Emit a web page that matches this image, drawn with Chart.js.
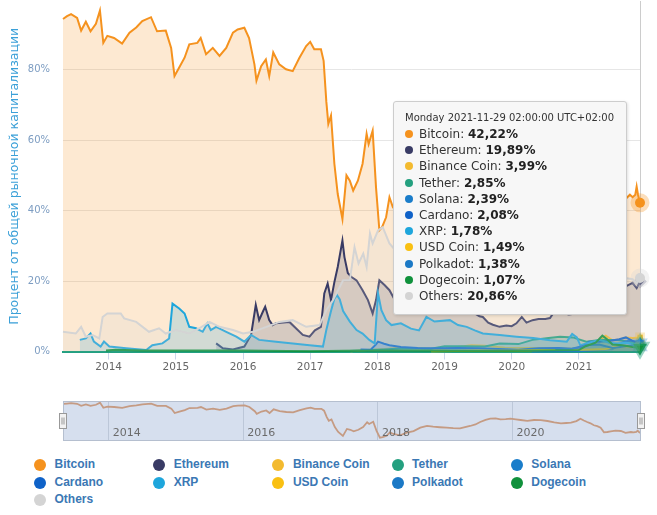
<!DOCTYPE html>
<html><head><meta charset="utf-8">
<script src="https://cdn.jsdelivr.net/npm/chart.js@4.4.1/dist/chart.umd.min.js"></script>
<style>
html,body{margin:0;padding:0;background:#fff;width:657px;height:515px;overflow:hidden;}
#wrap{position:relative;width:657px;height:515px;}
#main{position:absolute;left:0;top:0;}
#nav{position:absolute;left:0;top:397px;}
#tip{position:absolute;display:none;background:#f7f7f7;border:1px solid #cdcdcd;border-radius:3px;box-shadow:1px 1px 3px rgba(0,0,0,0.12);padding:8px 12px 10px 11px;font-family:"DejaVu Sans",sans-serif;color:#333;white-space:nowrap;}
#tip .t{font-size:10px;line-height:16px;}
#tip .r{font-size:12px;line-height:16.2px;}
#tip .d{display:inline-block;width:8px;height:8px;border-radius:50%;margin-right:6px;vertical-align:0px;}
#tip b{font-weight:bold;color:#222;}
.li{position:absolute;height:16px;line-height:16px;padding-left:20px;font:bold 12px "Liberation Sans",Arial,sans-serif;color:#3b78b4;white-space:nowrap;}
.li .m{position:absolute;left:-0.5px;top:2px;width:12px;height:12px;border-radius:50%;}
</style>
</head><body>
<div id="wrap">
<canvas id="main" width="657" height="386"></canvas>
<canvas id="nav" width="657" height="48"></canvas>
<div id="tip"></div>
<div id="legend"></div>
</div>
<script>
// ---------------- data (decimal years, percent of total market cap) ----------------
const btcT = [2013.32,2013.38,2013.44,2013.53,2013.59,2013.66,2013.73,2013.81,2013.87,2013.92,
  2013.98,2014.08,2014.20,2014.31,2014.41,2014.50,2014.63,2014.72,2014.85,2014.93,
  2014.98,2015.05,2015.13,2015.20,2015.32,2015.37,2015.45,2015.55,2015.65,2015.75,
  2015.85,2015.92,2016.02,2016.09,2016.17,2016.20,2016.27,2016.34,2016.39,2016.45,
  2016.54,2016.64,2016.74,2016.84,2016.94,2017.00,2017.06,2017.16,2017.20,2017.24,
  2017.27,2017.31,2017.36,2017.41,2017.48,2017.54,2017.59,2017.64,2017.71,2017.78,
  2017.84,2017.87,2017.93,2017.98,2018.03,2018.07,2018.13,2018.18,2018.23,2018.33,
  2018.43,2018.53,2018.63,2018.73,2018.82,2018.92,2019.02,2019.12,2019.22,2019.37,
  2019.45,2019.52,2019.60,2019.67,2019.75,2019.82,2019.90,2019.97,2020.05,2020.12,
  2020.22,2020.32,2020.42,2020.52,2020.62,2020.72,2020.80,2020.87,2020.95,2021.01,
  2021.06,2021.11,2021.16,2021.21,2021.26,2021.31,2021.36,2021.41,2021.46,2021.53,
  2021.61,2021.68,2021.76,2021.80,2021.84,2021.86,2021.88,2021.91];
const btcV = [94.4,95.2,95.8,94.7,91.1,93.6,90.9,93.0,96.8,87.6,
  89.6,89.0,87.4,90.5,92.0,93.8,94.9,90.9,91.1,86.2,
  78.2,80.6,83.4,87.2,87.6,89.0,84.4,86.2,83.9,86.2,
  90.5,91.4,91.9,89.0,81.5,76.9,81.0,82.9,78.2,84.9,
  81.5,80.1,79.6,83.4,86.7,87.9,85.8,85.8,82.5,71.0,
  64.6,67.0,53.3,44.7,37.6,50.0,48.5,45.7,48.5,53.3,
  61.8,58.9,62.7,46.6,34.4,35.3,38.1,43.8,41.0,38.5,
  43.3,46.0,52.2,55.5,54.0,53.0,52.2,51.5,51.1,55.2,
  58.0,62.3,66.0,68.2,68.8,67.1,67.5,68.2,67.0,65.9,
  64.5,65.9,65.5,64.1,61.5,60.0,60.5,61.1,64.0,68.2,
  65.0,62.3,60.0,56.5,55.0,52.2,44.0,44.5,45.5,47.0,
  46.3,43.0,44.5,43.8,44.5,46.8,44.5,42.22];

const ethT = [2015.60,2015.70,2015.85,2016.02,2016.12,2016.19,2016.24,2016.30,2016.33,2016.39,
  2016.44,2016.49,2016.69,2016.89,2016.99,2017.07,2017.16,2017.21,2017.26,2017.31,
  2017.36,2017.41,2017.48,2017.51,2017.56,2017.61,2017.69,2017.78,2017.86,2017.93,
  2017.98,2018.03,2018.11,2018.18,2018.25,2018.33,2018.42,2018.50,2018.58,2018.67,
  2018.75,2018.85,2018.95,2019.05,2019.15,2019.25,2019.35,2019.45,2019.52,2019.57,
  2019.65,2019.72,2019.82,2019.92,2020.00,2020.07,2020.15,2020.22,2020.31,2020.40,
  2020.50,2020.57,2020.65,2020.75,2020.85,2020.95,2021.05,2021.15,2021.25,2021.35,
  2021.42,2021.50,2021.60,2021.70,2021.80,2021.86,2021.91];
const ethV = [2.3,0.9,0.6,1.4,4.7,13.2,8.9,11.5,12.7,8.9,
  7.5,8.0,8.4,4.7,4.2,6.0,7.0,16.5,19.3,14.6,
  19.7,24.0,31.5,26.8,22.3,21.2,20.2,17.4,14.6,10.8,
  14.6,20.2,18.8,17.4,15.0,17.5,15.0,14.0,12.0,11.0,
  11.5,11.0,11.0,11.5,11.0,11.0,11.5,10.8,10.0,9.8,
  8.2,7.6,7.0,7.4,7.2,8.0,9.8,8.2,8.9,9.2,
  9.2,9.5,11.8,11.0,10.5,10.8,13.0,12.5,13.5,18.0,
  17.5,16.5,18.5,18.5,19.5,18.0,19.89];

const bnbT = [2017.60,2017.90,2018.00,2018.30,2018.80,2019.00,2019.40,2019.60,2019.90,2020.20,
  2020.60,2020.90,2021.05,2021.15,2021.30,2021.40,2021.50,2021.60,2021.70,2021.80,2021.91];
const bnbV = [0.1,0.5,0.6,1.0,0.8,0.8,1.8,1.6,1.1,1.0,
  1.0,0.8,0.9,2.4,3.3,4.5,3.2,3.4,4.0,3.8,3.99];

const usdtT = [2015.15,2016.50,2017.00,2017.50,2017.90,2018.10,2018.40,2018.80,2019.00,2019.30,
  2019.60,2019.82,2020.10,2020.31,2020.55,2020.72,2020.91,2021.11,2021.31,2021.56,
  2021.70,2021.81,2021.91];
const usdtV = [0.05,0.05,0.1,0.1,0.4,0.6,0.9,0.8,1.5,1.5,
  1.4,2.3,2.1,3.3,3.8,4.2,4.0,2.8,3.3,3.3,
  2.9,2.8,2.85];

const solT = [2020.30,2020.70,2021.00,2021.30,2021.50,2021.65,2021.75,2021.85,2021.91];
const solV = [0.01,0.1,0.1,0.4,0.6,2.5,3.2,2.8,2.39];

const adaT = [2017.75,2017.90,2017.98,2018.01,2018.10,2018.18,2018.35,2018.60,2018.90,2019.20,
  2019.50,2019.80,2020.10,2020.40,2020.70,2020.90,2021.05,2021.15,2021.30,2021.45,
  2021.60,2021.70,2021.80,2021.91];
const adaV = [0.6,0.5,2.0,2.8,2.2,1.8,1.3,1.0,0.9,1.0,
  0.9,0.7,0.5,0.9,1.0,0.8,1.2,2.8,2.8,3.0,
  3.5,4.0,3.0,2.08];

const xrpT = [2013.57,2013.66,2013.73,2013.78,2013.88,2013.93,2014.01,2014.26,2014.56,2014.65,
  2014.80,2014.90,2014.95,2015.05,2015.13,2015.20,2015.30,2015.40,2015.47,2015.52,
  2015.60,2015.75,2015.90,2016.02,2016.12,2016.24,2016.49,2016.74,2016.99,2017.19,
  2017.24,2017.31,2017.36,2017.40,2017.44,2017.49,2017.59,2017.69,2017.78,2017.88,
  2017.96,2018.01,2018.06,2018.13,2018.21,2018.35,2018.50,2018.62,2018.73,2018.85,
  2019.08,2019.20,2019.33,2019.45,2019.57,2019.82,2020.07,2020.32,2020.57,2020.82,
  2020.90,2020.97,2021.02,2021.15,2021.31,2021.45,2021.56,2021.70,2021.80,2021.91];
const xrpV = [3.3,3.7,5.1,2.8,1.4,2.8,1.4,0.9,0.4,1.8,
  2.3,3.7,13.6,12.2,10.8,7.0,6.6,5.6,8.0,6.1,
  7.0,5.6,4.2,2.8,4.7,3.3,2.8,2.3,1.8,1.4,
  6.1,11.5,15.0,16.0,14.8,11.5,8.5,6.1,5.1,3.3,
  2.3,16.5,11.7,8.9,7.5,8.0,6.5,6.0,9.8,8.5,
  8.9,7.5,7.0,6.0,5.1,4.7,4.2,3.8,3.2,2.8,
  5.0,4.0,1.8,2.5,3.3,2.5,2.3,2.5,2.2,1.78];

const usdcT = [2018.80,2019.50,2020.00,2020.50,2020.90,2021.20,2021.40,2021.60,2021.75,2021.91];
const usdcV = [0.1,0.2,0.2,0.4,0.4,0.6,0.7,1.5,1.4,1.49];

const dotT = [2020.65,2020.90,2021.10,2021.30,2021.50,2021.70,2021.80,2021.91];
const dotV = [0.5,0.8,1.8,2.0,1.0,1.5,1.7,1.38];

const dogeT = [2013.96,2014.10,2014.50,2015.00,2016.00,2017.00,2017.50,2018.00,2019.00,2020.00,
  2021.00,2021.10,2021.25,2021.35,2021.42,2021.50,2021.65,2021.80,2021.91];
const dogeV = [0.3,0.5,0.3,0.3,0.3,0.1,0.2,0.3,0.2,0.2,
  0.4,1.5,2.5,4.5,3.5,2.0,1.8,1.3,1.07];

const othT = [2013.32,2013.51,2013.59,2013.66,2013.76,2013.86,2013.91,2013.98,2014.18,2014.23,
  2014.41,2014.60,2014.75,2014.85,2015.00,2015.20,2015.35,2015.50,2015.65,2015.85,
  2016.00,2016.15,2016.35,2016.54,2016.74,2016.94,2017.14,2017.24,2017.34,2017.49,
  2017.59,2017.66,2017.72,2017.79,2017.84,2017.89,2017.93,2018.01,2018.08,2018.18,
  2018.30,2018.45,2018.60,2018.75,2018.90,2019.10,2019.30,2019.50,2019.70,2019.90,
  2020.10,2020.30,2020.50,2020.60,2020.80,2021.00,2021.20,2021.35,2021.50,2021.65,
  2021.80,2021.86,2021.91];
const othV = [5.6,5.1,7.0,4.2,4.7,3.7,9.8,10.8,10.8,9.4,
  8.4,5.6,6.6,5.1,6.1,5.1,6.6,8.4,7.0,6.1,
  5.1,5.6,7.0,8.4,8.9,7.0,7.5,11.7,14.6,20.2,
  20.2,29.6,25.0,27.8,24.0,33.5,30.7,34.4,35.3,30.7,
  28.0,25.0,22.0,18.0,17.0,16.5,15.0,13.0,12.0,12.5,
  13.0,13.0,14.0,16.0,13.5,12.0,16.0,22.0,20.0,21.0,
  20.5,19.4,20.86];

const seriesNames = ['Bitcoin','Ethereum','Binance Coin','Tether','Solana','Cardano','XRP','USD Coin','Polkadot','Dogecoin','Others'];
const seriesT = [btcT, ethT, bnbT, usdtT, solT, adaT, xrpT, usdcT, dotT, dogeT, othT];
const seriesV = [btcV, ethV, bnbV, usdtV, solV, adaV, xrpV, usdcV, dotV, dogeV, othV];

const yearTicks = [2014,2015,2016,2017,2018,2019,2020,2021];
const navTicks = [2014,2016,2018,2020];
const percentTicks = [0,20,40,60,80];
const yTitle = 'Процент от общей рыночной капитализации';
const endDate = '2021-11-29';
const endTime = '02:00:00 UTC+02:00';

// ---------------- styles ----------------
const colors = ['#f5921e','#393b65','#f3ba2f','#24a07f','#1a7dca','#0f62c8','#1ea6dc','#f9c012','#1b79c6','#10913c','#d4d4d4'];
const markers = [['circle',0],['rectRot',0],['rect',0],['triangle',0],['triangle',180],['circle',0],['rectRot',0],['rect',0],['triangle',0],['triangle',180],['circle',0]];
function rgba(hex, a){const n=parseInt(hex.slice(1),16);return `rgba(${n>>16},${(n>>8)&255},${n&255},${a})`;}
const xMin = btcT[0], xMax = btcT[btcT.length-1];
const fmt = v => v.toFixed(2).replace('.', ',');
const days = ['Sunday','Monday','Tuesday','Wednesday','Thursday','Friday','Saturday'];
const tipTitle = days[new Date(endDate+'T00:00:00Z').getUTCDay()] + ' ' + endDate + ' ' + endTime;

const hoverR = {circle: 5, rectRot: 4, rect: 4, triangle: 5};
const hoverB = {circle: 9, rectRot: 4, rect: 4, triangle: 4};
const datasets = seriesNames.map((name,i)=>({
  label: name,
  data: seriesT[i].map((x,k)=>({x, y: seriesV[i][k]})),
  borderColor: colors[i],
  backgroundColor: rgba(colors[i], 0.2),
  borderWidth: 2,
  fill: 'origin',
  tension: 0,
  pointRadius: 0,
  pointHoverRadius: i === 9 ? 8 : (i === 5 ? 3.5 : hoverR[markers[i][0]]),
  pointStyle: markers[i][0],
  pointRotation: markers[i][1],
  pointHoverBackgroundColor: colors[i],
  pointHoverBorderColor: i === 9 ? 'rgba(36,160,127,0.45)' : rgba(colors[i], 0.3),
  pointHoverBorderWidth: i === 5 ? 3 : hoverB[markers[i][0]],
  order: -i,
  clip: false
}));

const crosshair = {
  id:'crosshair',
  beforeDatasetsDraw(chart){
    const a = chart.getActiveElements();
    if(!a.length) return;
    const x = Math.round(a[0].element.x)+0.5, ctx = chart.ctx;
    ctx.save(); ctx.strokeStyle='#cccccc'; ctx.lineWidth=1;
    ctx.beginPath(); ctx.moveTo(x, chart.chartArea.top); ctx.lineTo(x, chart.chartArea.bottom); ctx.stroke();
    ctx.restore();
  }
};

function externalTip(context){
  const {chart, tooltip} = context;
  const el = document.getElementById('tip');
  if (tooltip.opacity === 0 || !tooltip.dataPoints || !tooltip.dataPoints.length){ el.style.display='none'; return; }
  let html = `<div class="t">${tooltip.title.join(' ')}</div>`;
  tooltip.dataPoints.forEach(dp=>{
    html += `<div class="r"><span class="d" style="background:${dp.dataset.borderColor}"></span>${dp.dataset.label}: <b>${fmt(dp.parsed.y)}%</b></div>`;
  });
  el.innerHTML = html;
  el.style.display = 'block';
  const w = el.offsetWidth;
  el.style.left = (tooltip.caretX - 13 - w) + 'px';
  el.style.top = (chart.chartArea.top + 100) + 'px';
}

const chart = new Chart(document.getElementById('main'), {
  type: 'line',
  data: { datasets },
  options: {
    responsive: false,
    animation: false,
    events: [],
    layout: { padding: { left: 0, right: 17, top: 0, bottom: 0 } },
    plugins: {
      legend: { display: false },
      tooltip: { enabled: false, external: externalTip, callbacks: { title: () => tipTitle } }
    },
    scales: {
      x: {
        type: 'linear', min: xMin, max: xMax,
        afterBuildTicks: s => { s.ticks = yearTicks.map(v => ({value: v})); },
        afterFit: s => { s.height = 386 - 351.5; s.paddingLeft = 0; s.paddingRight = 0; },
        ticks: { color: '#666666', font: { family: 'DejaVu Sans', size: 10.5 }, padding: 1, autoSkip: false, maxRotation: 0, callback: v => String(v) },
        grid: { drawOnChartArea: false, drawTicks: true, tickLength: 8, tickColor: '#ccd6eb' },
        border: { display: true, color: '#22a082', width: 2 }
      },
      y: {
        min: 0, max: 99.5,
        afterBuildTicks: s => { s.ticks = percentTicks.map(v => ({value: v})); },
        afterFit: s => { s.width = 63; s.paddingTop = 0; s.paddingBottom = 0; },
        ticks: { color: '#7d9dc2', font: { family: 'DejaVu Sans', size: 10 }, padding: 13, callback: v => v + '%' },
        grid: { color: c => (c.tick && c.tick.value === 0) ? 'rgba(0,0,0,0)' : '#e6e6e6', drawTicks: false },
        border: { display: false },
        title: { display: true, text: yTitle, color: '#3ba0d8', font: { family: 'DejaVu Sans', size: 12.5 }, padding: { top: 7, bottom: 0 } }
      }
    }
  },
  plugins: [crosshair]
});

const active = chart.data.datasets.map((d,i)=>({datasetIndex: i, index: d.data.length - 1}));
chart.setActiveElements(active);
chart.update();
chart.tooltip.setActiveElements(active, { x: chart.chartArea.right, y: chart.chartArea.top + 100 });

// ---------------- navigator ----------------
const navDeco = {
  id: 'navDeco',
  beforeDraw(c){
    const {ctx, chartArea: a} = c;
    ctx.save(); ctx.fillStyle = '#d6dfee'; ctx.fillRect(a.left, a.top, a.right - a.left, a.bottom - a.top); ctx.restore();
  },
  afterDraw(c){
    const {ctx, chartArea: a, scales: {x}} = c;
    ctx.save();
    ctx.fillStyle = '#6b6b6b'; ctx.font = '11px "DejaVu Sans"'; ctx.textBaseline = 'middle'; ctx.textAlign = 'left';
    navTicks.forEach(v => ctx.fillText(String(v), x.getPixelForValue(v) + 4, a.bottom - 8));
    ctx.strokeStyle = '#b5bfcf'; ctx.lineWidth = 1;
    ctx.strokeRect(a.left + 0.5, a.top + 0.5, a.right - a.left - 1, a.bottom - a.top - 1);
    const cy = (a.top + a.bottom) / 2;
    [a.left, a.right].forEach(hx => {
      const L = Math.round(hx - 4) + 0.5, T = Math.round(cy - 8) + 0.5;
      ctx.fillStyle = '#f2f2f2'; ctx.strokeStyle = '#999999';
      ctx.fillRect(L, T, 7, 15); ctx.strokeRect(L, T, 7, 15);
      ctx.beginPath();
      ctx.moveTo(L + 2.5, T + 4); ctx.lineTo(L + 2.5, T + 11);
      ctx.moveTo(L + 4.5, T + 4); ctx.lineTo(L + 4.5, T + 11);
      ctx.stroke();
    });
    ctx.restore();
  }
};

new Chart(document.getElementById('nav'), {
  type: 'line',
  data: { datasets: [{ label: seriesNames[0], data: btcT.map((x,k)=>({x, y: btcV[k]})), borderColor: '#c59b83', borderWidth: 1.8, pointRadius: 0, fill: false, tension: 0 }] },
  options: {
    responsive: false, animation: false, events: [],
    layout: { padding: { left: 63, right: 16, top: 4, bottom: 4 } },
    plugins: { legend: { display: false }, tooltip: { enabled: false } },
    scales: {
      x: {
        type: 'linear', min: xMin, max: xMax,
        afterBuildTicks: s => { s.ticks = navTicks.map(v => ({value: v})); },
        afterFit: s => { s.height = 0; s.paddingLeft = 0; s.paddingRight = 0; },
        ticks: { display: false },
        grid: { color: '#bcc7d8', drawTicks: false },
        border: { display: false }
      },
      y: { display: false, min: 28.5, max: 99.7 }
    }
  },
  plugins: [navDeco]
});

// ---------------- legend ----------------
const legendEl = document.getElementById('legend');
const rowY = [465, 482.5, 500];
seriesNames.forEach((name, i) => {
  const col = i % 5, row = Math.floor(i / 5);
  const d = document.createElement('div');
  d.className = 'li';
  d.style.left = (34.5 + col * 119.2) + 'px';
  d.style.top = (rowY[row] - 8) + 'px';
  d.innerHTML = `<span class="m" style="background:${colors[i]}"></span>${name}`;
  legendEl.appendChild(d);
});
</script>
</body></html>
